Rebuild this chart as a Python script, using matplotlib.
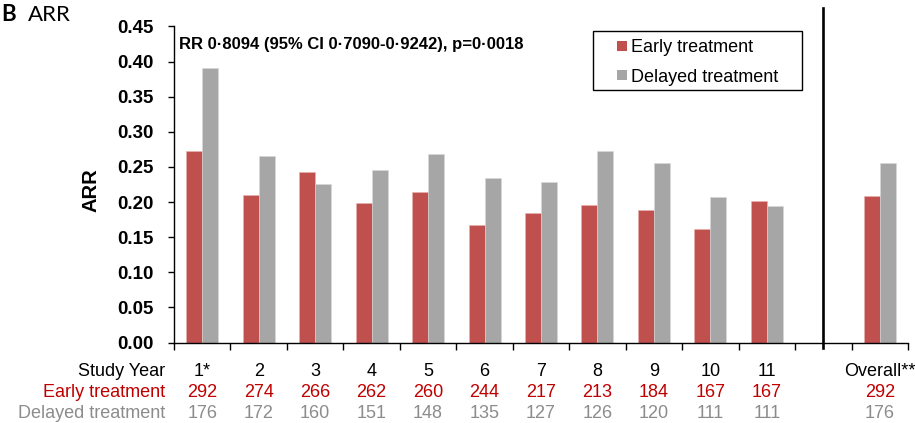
import matplotlib
matplotlib.use("Agg")
import matplotlib.pyplot as plt
import matplotlib.transforms as mtransforms
from matplotlib.patches import Rectangle

plt.rcParams["font.family"] = ["Liberation Sans", "DejaVu Sans"]

# ── Data ──────────────────────────────────────────────────────────────────────
years = ["1*", "2", "3", "4", "5", "6", "7", "8", "9", "10", "11", "", "Overall**"]
arr_early = [0.272, 0.210, 0.243, 0.198, 0.214, 0.167, 0.185, 0.196, 0.188, 0.161, 0.201, None, 0.209]
arr_delayed = [0.391, 0.266, 0.226, 0.245, 0.268, 0.234, 0.228, 0.273, 0.256, 0.207, 0.195, None, 0.255]
n_early = ["292", "274", "266", "262", "260", "244", "217", "213", "184", "167", "167", "", "292"]
n_delayed = ["176", "172", "160", "151", "148", "135", "127", "126", "120", "111", "111", "", "176"]
series = ["Early treatment", "Delayed treatment"]
rr_text = "RR 0\u00b78094 (95% CI 0\u00b77090-0\u00b79242), p=0\u00b70018"

# ── Colors ────────────────────────────────────────────────────────────────────
RED_BAR = "#C0504D"
GREY_BAR = "#A6A6A6"
RED_TXT = "#C00000"
GREY_TXT = "#8C8C8C"

W, H = 915, 423
fig = plt.figure(figsize=(W / 100, H / 100), dpi=100)
fig.patch.set_facecolor("white")
ax = fig.add_axes([174 / W, 1 - 342.5 / H, (908 - 174) / W, (342.5 - 26.5) / H])


def px(x, y):
    """pixel position (from top-left) -> figure fraction"""
    return x / W, 1 - y / H


bw = 0.284
for i, (e, d) in enumerate(zip(arr_early, arr_delayed)):
    if e is None:
        continue
    ax.bar(i - bw / 2, e, width=bw, color=RED_BAR, edgecolor="#E8B0AE", linewidth=0.4, zorder=2)
    ax.bar(i + bw / 2, d, width=bw, color=GREY_BAR, edgecolor="#D8D8D8", linewidth=0.4, zorder=2)

ax.set_xlim(-0.5, len(years) - 0.5)
ax.set_ylim(0, 0.45)
yt = [i * 0.05 for i in range(10)]
ax.set_yticks(yt)
ax.set_yticklabels([f"{v:.2f}" for v in yt], fontsize=13.5, fontweight="bold")
ax.set_xticks([i - 0.5 for i in range(len(years) + 1)])
ax.set_xticklabels([])
ax.tick_params(axis="y", direction="out", length=4.5, width=1, pad=10.5)
ax.tick_params(axis="x", direction="out", length=5, width=1)
for s in ["top", "right"]:
    ax.spines[s].set_visible(False)
for s in ["left", "bottom"]:
    ax.spines[s].set_linewidth(1)

# separator before the overall group
sep = years.index("")
ax.plot([sep, sep], [-0.008, 0.476], color="black", lw=1.9, clip_on=False, zorder=3)

ax.text(-0.42, 0.4245, rr_text, fontsize=12, fontweight="bold", ha="left", va="center")

# ── Legend box ────────────────────────────────────────────────────────────────
x0, y0 = px(593, 90)
x1, y1 = px(802, 31)
fig.patches.append(Rectangle((x0, y0), x1 - x0, y1 - y0, transform=fig.transFigure,
                             facecolor="white", edgecolor="black", lw=1, zorder=5))
for lbl, clr, base in zip(series, [RED_BAR, GREY_BAR], [52, 81.5]):
    sx, sy = px(617, base - 1)
    fig.patches.append(Rectangle((sx, sy), 10 / W, 10 / H, transform=fig.transFigure,
                                 facecolor=clr, edgecolor="none", zorder=6))
    tx, ty = px(631, base)
    fig.text(tx, ty, lbl, fontsize=13, ha="left", va="baseline", zorder=6)

# ── Table of patient numbers below the axis ──────────────────────────────────
trans = mtransforms.blended_transform_factory(ax.transData, fig.transFigure)
rows = [("Study Year", years, "black", 375.5),
        ("Early treatment", n_early, RED_TXT, 396.5),
        ("Delayed treatment", n_delayed, GREY_TXT, 418)]
for label, vals, clr, base in rows:
    fig.text(165.5 / W, 1 - base / H, label, ha="right", va="baseline",
             fontsize=13, color=clr)
    for i, v in enumerate(vals):
        ax.text(i, 1 - base / H, v, transform=trans, ha="center", va="baseline",
                fontsize=13, color=clr, clip_on=False)

fig.text(91 / W, 1 - 190 / H, "ARR", rotation=90, ha="center", va="center",
         fontsize=14.5, fontweight="bold")

fig.text(1 / W, 1 - 21 / H, "B", fontsize=16, fontweight="bold", ha="left",
         va="baseline", family=["Lato", "DejaVu Sans"])
fig.text(28 / W, 1 - 21 / H, "ARR", fontsize=16, ha="left", va="baseline",
         family=["Lato", "DejaVu Sans"])

fig.savefig("out.png", dpi=100, facecolor="white")
